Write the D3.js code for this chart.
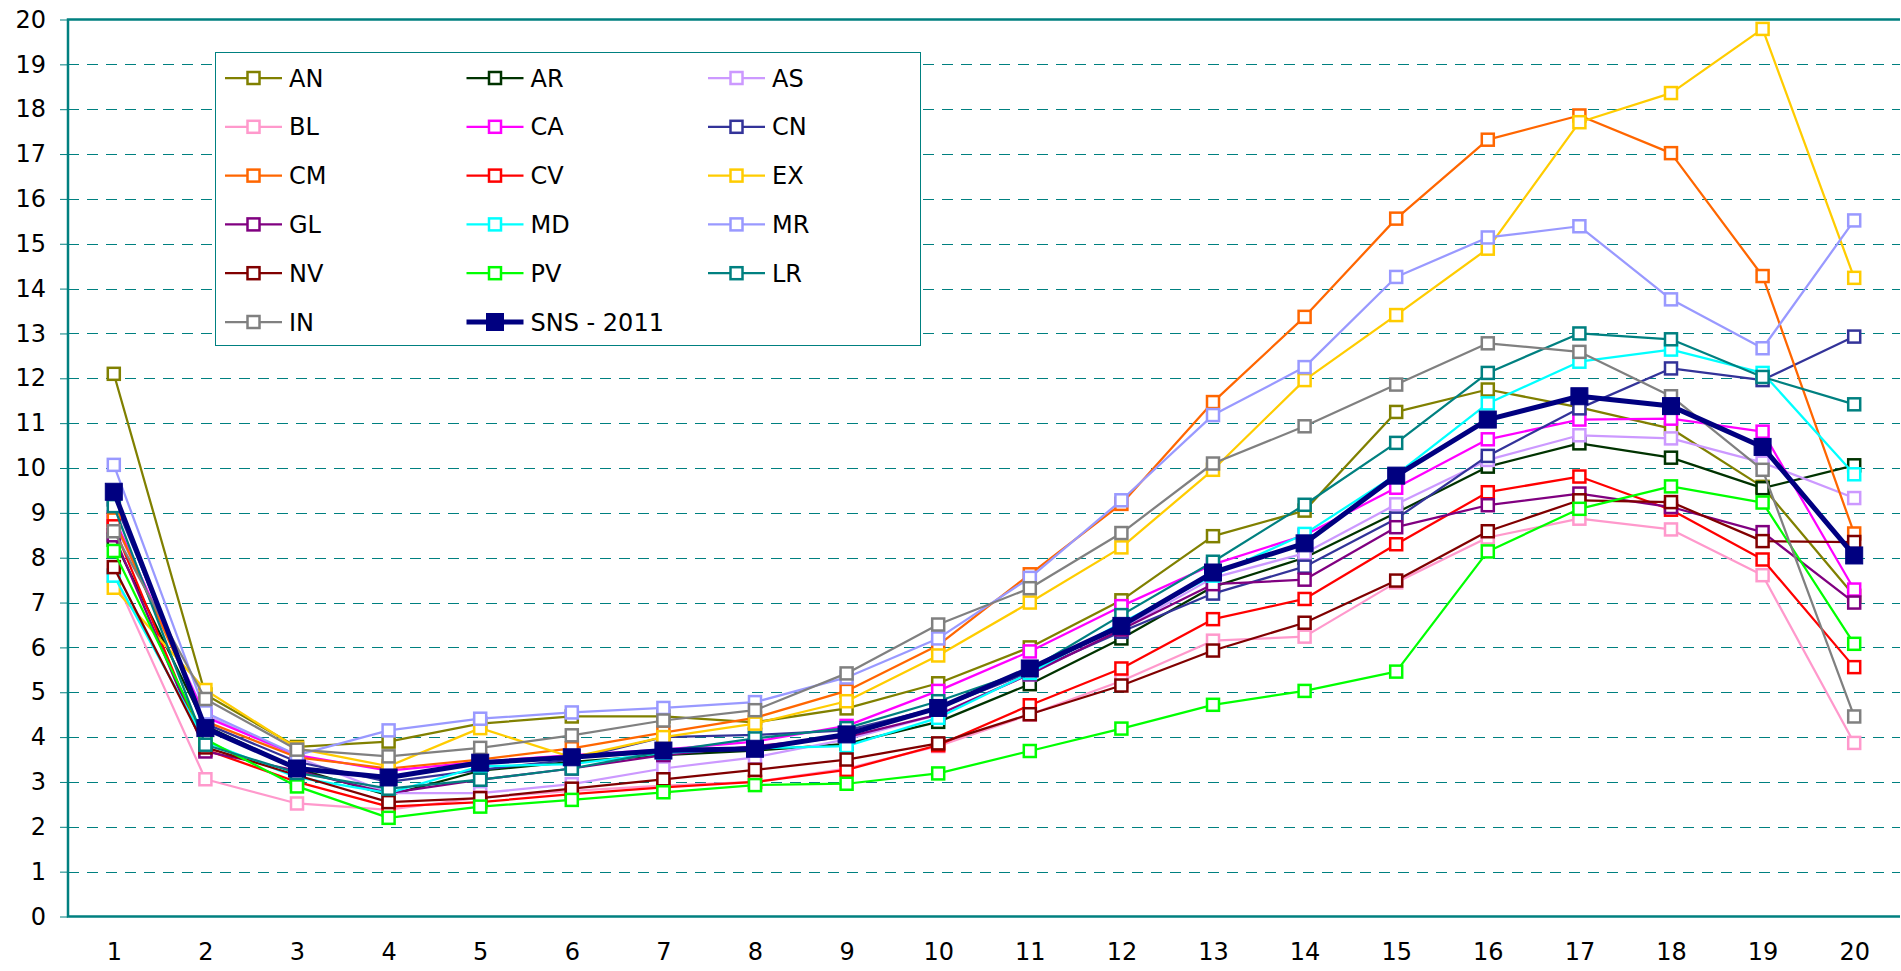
<!DOCTYPE html>
<html>
  <head>
    <meta charset="utf-8">
    <title>SNS 2011</title>
    <script src="https://d3js.org/d3.v7.min.js"></script>
    <style>
      body{
        margin: 0;
        background: #ffffff;
      }
      text{
        font-family: "DejaVu Sans", Verdana, sans-serif;
        fill: #000;
      }
    </style>
  </head>
  <body>
    <div id="container"></div>
    <script>

      // DATA
      const categories = [1, 2, 3, 4, 5, 6, 7, 8, 9, 10, 11, 12, 13, 14, 15, 16, 17, 18, 19, 20];
      const yTicks = [0, 1, 2, 3, 4, 5, 6, 7, 8, 9, 10, 11, 12, 13, 14, 15, 16, 17, 18, 19, 20];

      const AN = [12.1, 4.95, 3.78, 3.9, 4.3, 4.46, 4.46, 4.33, 4.64, 5.2, 6.0, 7.05, 8.48, 9.05, 11.25, 11.75, 11.35, 10.88, 9.58, 7.15];
      const AR = [8.4, 4.25, 3.3, 2.7, 3.25, 3.45, 3.6, 3.7, 3.85, 4.34, 5.18, 6.2, 7.35, 8.0, 9.0, 10.03, 10.55, 10.23, 9.55, 10.06];
      const AS = [8.8, 4.5, 3.55, 2.75, 2.75, 2.95, 3.3, 3.55, 3.95, 4.5, 5.4, 6.4, 7.55, 8.1, 9.19, 10.18, 10.73, 10.66, 10.12, 9.33];
      const BL = [7.6, 3.06, 2.52, 2.38, 2.65, 2.8, 2.92, 3.0, 3.3, 3.8, 4.5, 5.25, 6.15, 6.24, 7.45, 8.45, 8.87, 8.63, 7.61, 3.87];
      const CA = [8.9, 4.45, 3.6, 3.25, 3.45, 3.6, 3.72, 3.9, 4.25, 5.03, 5.91, 6.92, 7.85, 8.5, 9.56, 10.64, 11.08, 11.1, 10.81, 7.29];
      const CN = [9.3, 4.3, 3.45, 3.0, 3.27, 3.5, 4.0, 4.05, 4.15, 4.65, 5.45, 6.35, 7.2, 7.8, 8.87, 10.27, 11.33, 12.22, 11.96, 12.93];
      const CM = [8.85, 4.35, 3.55, 3.3, 3.5, 3.75, 4.1, 4.43, 5.03, 6.05, 7.63, 9.2, 11.47, 13.37, 15.56, 17.32, 17.86, 17.02, 14.28, 8.54];
      const CV = [8.7, 3.72, 3.0, 2.45, 2.55, 2.73, 2.88, 3.0, 3.27, 3.82, 4.71, 5.53, 6.63, 7.08, 8.3, 9.46, 9.81, 9.07, 7.96, 5.56];
      const EX = [7.33, 5.05, 3.75, 3.35, 4.2, 3.55, 4.0, 4.3, 4.8, 5.82, 7.0, 8.23, 9.96, 11.96, 13.41, 14.89, 17.71, 18.36, 19.79, 14.24];
      const GL = [8.5, 3.68, 3.25, 2.75, 3.05, 3.3, 3.6, 3.8, 4.0, 4.5, 5.4, 6.4, 7.41, 7.51, 8.68, 9.17, 9.43, 9.13, 8.57, 7.0];
      const MD = [7.6, 3.9, 3.1, 2.75, 3.35, 3.4, 3.65, 3.75, 3.8, 4.43, 5.43, 6.55, 7.6, 8.53, 9.85, 11.44, 12.37, 12.64, 12.12, 9.86];
      const MR = [10.07, 4.55, 3.6, 4.15, 4.41, 4.55, 4.65, 4.78, 5.33, 6.2, 7.55, 9.28, 11.18, 12.25, 14.26, 15.14, 15.39, 13.76, 12.67, 15.52];
      const NV = [7.79, 3.77, 3.15, 2.55, 2.64, 2.85, 3.06, 3.27, 3.5, 3.86, 4.51, 5.15, 5.93, 6.55, 7.49, 8.59, 9.28, 9.24, 8.37, 8.35];
      const PV = [8.15, 3.95, 2.9, 2.2, 2.45, 2.6, 2.77, 2.93, 2.96, 3.19, 3.69, 4.19, 4.72, 5.03, 5.46, 8.14, 9.09, 9.59, 9.23, 6.08];
      const LR = [9.15, 3.83, 3.2, 2.85, 3.05, 3.3, 3.68, 3.97, 4.2, 4.8, 5.5, 6.72, 7.91, 9.18, 10.56, 12.12, 13.0, 12.87, 12.03, 11.42];
      const IN = [8.59, 4.85, 3.72, 3.57, 3.76, 4.04, 4.37, 4.6, 5.42, 6.51, 7.32, 8.55, 10.1, 10.93, 11.86, 12.78, 12.59, 11.6, 9.96, 4.46];
      const SNS = [9.47, 4.2, 3.3, 3.1, 3.43, 3.55, 3.7, 3.74, 4.06, 4.65, 5.53, 6.48, 7.67, 8.32, 9.83, 11.08, 11.6, 11.38, 10.47, 8.05];

      const seriesNames = ["AN", "AR", "AS", "BL", "CA", "CN", "CM", "CV", "EX", "GL", "MD", "MR", "NV", "PV", "LR", "IN", "SNS - 2011"];
      const seriesValues = [AN, AR, AS, BL, CA, CN, CM, CV, EX, GL, MD, MR, NV, PV, LR, IN, SNS];
      const seriesColors = ["#808000", "#003300", "#cc99ff", "#ff99cc", "#ff00ff", "#333399", "#ff6600", "#ff0000",
        "#ffcc00", "#800080", "#00ffff", "#9999ff", "#800000", "#00ff00", "#008080", "#808080", "#000080"];

      const series = seriesNames.map((name, i) => ({
        name: name,
        color: seriesColors[i],
        main: i === seriesNames.length - 1,
        values: seriesValues[i].map((v, j) => ({ cat: categories[j], v: v }))
      }));

      // SET DIMENSIONS & MARGINS
      const width = 1901, height = 971;
      const plot = { left: 68, right: 1900, top: 19.5, bottom: 916.5 };
      const teal = "#008080";

      // CREATE SVG
      const svg = d3.select("#container")
        .append("svg")
        .attr("width", width)
        .attr("height", height);

      // SCALES
      const x = d3.scalePoint()
        .domain(categories)
        .range([plot.left, plot.right])
        .padding(0.5);

      const y = d3.scaleLinear()
        .domain([0, 20])
        .range([plot.bottom, plot.top]);

      // GRIDLINES
      svg.append("g")
        .selectAll("line")
        .data(yTicks.filter(d => d > 0 && d < 20))
        .join("line")
        .attr("x1", plot.left)
        .attr("x2", plot.right)
        .attr("y1", d => Math.round(y(d)) + 0.5)
        .attr("y2", d => Math.round(y(d)) + 0.5)
        .attr("stroke", teal)
        .attr("stroke-width", 1)
        .attr("stroke-dasharray", "11,8");

      // Y-AXIS
      const yAxis = svg.append("g")
        .attr("transform", "translate(" + plot.left + ",0)")
        .call(d3.axisLeft(y).tickValues(yTicks).tickSize(8).tickPadding(14));
      yAxis.select(".domain").remove();
      yAxis.selectAll("line").attr("stroke", teal);
      yAxis.selectAll("text")
        .attr("font-size", 24)
        .attr("fill", "#000")
        .style("font-family", "DejaVu Sans");

      // X-AXIS (labels only)
      const xAxis = svg.append("g")
        .attr("transform", "translate(0," + plot.bottom + ")")
        .call(d3.axisBottom(x).tickSize(0).tickPadding(26));
      xAxis.select(".domain").remove();
      xAxis.selectAll("text")
        .attr("font-size", 24)
        .attr("fill", "#000")
        .style("font-family", "DejaVu Sans");

      // PLOT BORDER
      svg.append("path")
        .attr("d", "M" + plot.right + "," + plot.top + "H" + plot.left + "V" + plot.bottom + "H" + plot.right)
        .attr("fill", "none")
        .attr("stroke", teal)
        .attr("stroke-width", 2.5);

      // LINES
      const line = d3.line()
        .x(d => x(d.cat))
        .y(d => y(d.v));

      series.forEach(s => {
        const g = svg.append("g");
        g.append("path")
          .datum(s.values)
          .attr("d", line)
          .attr("fill", "none")
          .attr("stroke", s.color)
          .attr("stroke-width", s.main ? 5 : 2.25)
          .attr("stroke-linejoin", "round");

        const size = s.main ? 17 : 12;
        g.selectAll("rect")
          .data(s.values)
          .join("rect")
          .attr("x", d => x(d.cat) - size / 2)
          .attr("y", d => y(d.v) - size / 2)
          .attr("width", size)
          .attr("height", size)
          .attr("fill", s.main ? s.color : "#fff")
          .attr("stroke", s.color)
          .attr("stroke-width", s.main ? 1 : 2.5);
      });

      // LEGEND
      const legend = svg.append("g");
      legend.append("rect")
        .attr("x", 215.5)
        .attr("y", 52.5)
        .attr("width", 705)
        .attr("height", 293)
        .attr("fill", "#fff")
        .attr("stroke", teal)
        .attr("stroke-width", 1);

      const item = legend.selectAll(".item")
        .data(series)
        .join("g")
        .attr("class", "item")
        .attr("transform", (d, i) => "translate(" + (225 + (i % 3) * 241.5) + "," + (78 + Math.floor(i / 3) * 48.8) + ")");

      item.append("line")
        .attr("x1", 0)
        .attr("x2", 57)
        .attr("stroke", d => d.color)
        .attr("stroke-width", d => d.main ? 5 : 2.25);

      item.append("rect")
        .attr("x", d => 28.5 - (d.main ? 17 : 12) / 2)
        .attr("y", d => -(d.main ? 17 : 12) / 2)
        .attr("width", d => d.main ? 17 : 12)
        .attr("height", d => d.main ? 17 : 12)
        .attr("fill", d => d.main ? d.color : "#fff")
        .attr("stroke", d => d.color)
        .attr("stroke-width", d => d.main ? 1 : 2.5);

      item.append("text")
        .attr("x", 64)
        .attr("y", 0)
        .attr("dy", "0.36em")
        .attr("font-size", 24)
        .text(d => d.name);

    </script>
  </body>
</html>
